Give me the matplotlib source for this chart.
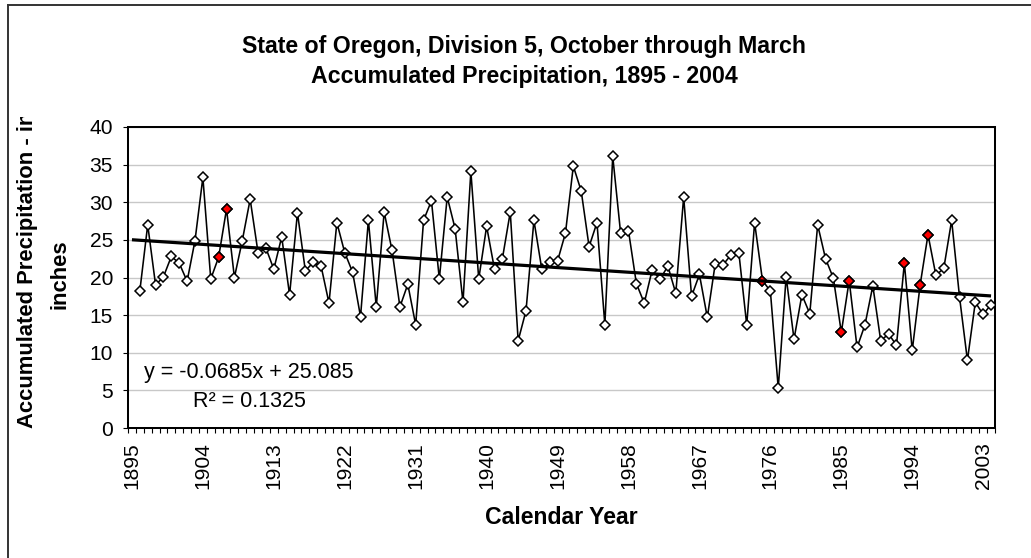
import numpy as np
import matplotlib
matplotlib.use("Agg")
import matplotlib.pyplot as plt
from matplotlib.lines import Line2D
from matplotlib.ticker import FixedLocator
from matplotlib.transforms import Bbox, TransformedBbox

# ---------------- data ----------------
years = np.arange(1895, 2005)
precip = [
    np.nan, 18.2, 27.0, 19.0, 20.1, 22.8, 21.9, 19.5, 24.9, 33.3,   # 1895-1904
    19.8, 22.7, 29.1, 20.0, 24.9, 30.4, 23.3, 23.9, 21.1, 25.4,     # 1905-1914
    17.7, 28.6, 20.9, 22.0, 21.5, 16.6, 27.3, 23.3, 20.7, 14.8,     # 1915-1924
    27.6, 16.1, 28.7, 23.6, 16.1, 19.1, 13.7, 27.6, 30.2, 19.8,     # 1925-1934
    30.7, 26.5, 16.7, 34.1, 19.8, 26.8, 21.1, 22.5, 28.7, 11.6,     # 1935-1944
    15.6, 27.6, 21.1, 22.0, 22.2, 25.9, 34.8, 31.5, 24.1, 27.3,     # 1945-1954
    13.7, 36.1, 25.9, 26.2, 19.2, 16.6, 21.0, 19.8, 21.5, 17.9,     # 1955-1964
    30.7, 17.5, 20.4, 14.7, 21.8, 21.7, 23.0, 23.3, 13.7, 27.3,     # 1965-1974
    19.6, 18.2, 5.3, 20.1, 11.8, 17.7, 15.2, 27.0, 22.5, 19.9,      # 1975-1984
    12.7, 19.6, 10.7, 13.7, 18.9, 11.6, 12.5, 11.0, 21.9, 10.3,     # 1985-1994
    19.0, 25.7, 20.3, 21.2, 27.6, 17.4, 9.0, 16.7, 15.1, 16.4,      # 1995-2004
]
highlight_years = [1906, 1907, 1975, 1985, 1986, 1993, 1995, 1996]
trend_slope = -0.0685
trend_intercept = 25.085
r_squared = 0.1325
label_years = np.arange(1895, 2004, 9)
y_ticks = np.arange(0, 41, 5)

title_lines = ["State of Oregon, Division 5, October through March",
               "Accumulated Precipitation, 1895 - 2004"]
x_label = "Calendar Year"
y_label_lines = ["Accumulated Precipitation - in", "inches"]

# ---------------- figure ----------------
W, H, DPI = 1031, 558, 100
plt.rcParams['font.family'] = ['Liberation Sans', 'DejaVu Sans']

fig = plt.figure(figsize=(W / DPI, H / DPI), dpi=DPI)
fig.patch.set_facecolor('white')


def fx(px):
    return px / W


def fy(py):
    return 1 - py / H


# outer chart-area frame (only left and top edges fall inside the crop)
fig.add_artist(Line2D([fx(7.5), fx(7.5)], [0, fy(4.5)], color='#333333', lw=1.4))
fig.add_artist(Line2D([fx(7.5), 1], [fy(4.5), fy(4.5)], color='#333333', lw=1.4))

ax = fig.add_axes([fx(128), fy(428), fx(995) - fx(128), fy(127) - fy(428)])
ax.set_xlim(years[0] - 0.5, years[-1] + 0.5)
ax.set_ylim(0, 40)

precip_arr = np.array(precip, dtype=float)
cat_index = years - years[0] + 1
trend = trend_slope * cat_index + trend_intercept

ax.plot(years, precip_arr, color='black', lw=1.15, marker='D', ms=5.0,
        mfc='white', mec='black', mew=1.1, zorder=3)
mask = np.isin(years, highlight_years)
ax.plot(years[mask], precip_arr[mask], ls='none', marker='D', ms=5.0,
        mfc='#ff0000', mec='black', mew=1.1, zorder=4)
ax.plot(years, trend, color='black', lw=2.3, zorder=5, solid_capstyle='butt')

# grid
ax.yaxis.set_major_locator(FixedLocator(y_ticks))
ax.grid(axis='y', color='#c8c8c8', lw=1.0)
ax.grid(axis='x', visible=False)
ax.set_axisbelow(True)

for sp in ax.spines.values():
    sp.set_linewidth(1.45)
    sp.set_color('black')

# ticks
ax.xaxis.set_major_locator(FixedLocator(label_years))
ax.xaxis.set_minor_locator(FixedLocator(np.arange(years[0] - 0.5, years[-1] + 1.0, 1.0)))
ax.set_xticklabels([str(y) for y in label_years], rotation=90, fontsize=15.1)
ax.tick_params(axis='x', which='major', length=0, pad=10.5)
ax.tick_params(axis='x', which='minor', length=3.3, width=0.8, direction='out')
ax.set_yticklabels([str(v) for v in y_ticks], fontsize=15.1)
ax.tick_params(axis='y', which='major', length=3.6, width=0.8, direction='out', pad=7.2)

# trendline equation
eq_x = (249 - 128) / (995 - 128)
ax.text(eq_x, 0.186, f"y = {trend_slope}x + {trend_intercept}", transform=ax.transAxes,
        ha='center', va='center', fontsize=15.5)
ax.text(eq_x, 0.0897, f"R\u00b2 = {r_squared}", transform=ax.transAxes,
        ha='center', va='center', fontsize=15.5)

# titles
fig.text(fx(524), fy(46), title_lines[0], ha='center', va='center',
         fontsize=16.7, fontweight='bold')
fig.text(fx(524), fy(77), title_lines[1], ha='center', va='center',
         fontsize=16.7, fontweight='bold')

fig.text(fx(561), fy(517), x_label, ha='center', va='center',
         fontsize=16.6, fontweight='bold')

t1 = fig.text(fx(28), fy(428), y_label_lines[0], rotation=90, rotation_mode='anchor',
              ha='left', va='center', fontsize=15.8, fontweight='bold')
t1.set_clip_box(TransformedBbox(Bbox([[0, 0], [1, fy(117)]]), fig.transFigure))
t1.set_clip_on(True)
fig.text(fx(60), fy(274), y_label_lines[1], rotation=90, ha='center', va='center',
         fontsize=15.8, fontweight='bold')

fig.savefig("out.png", dpi=DPI)
